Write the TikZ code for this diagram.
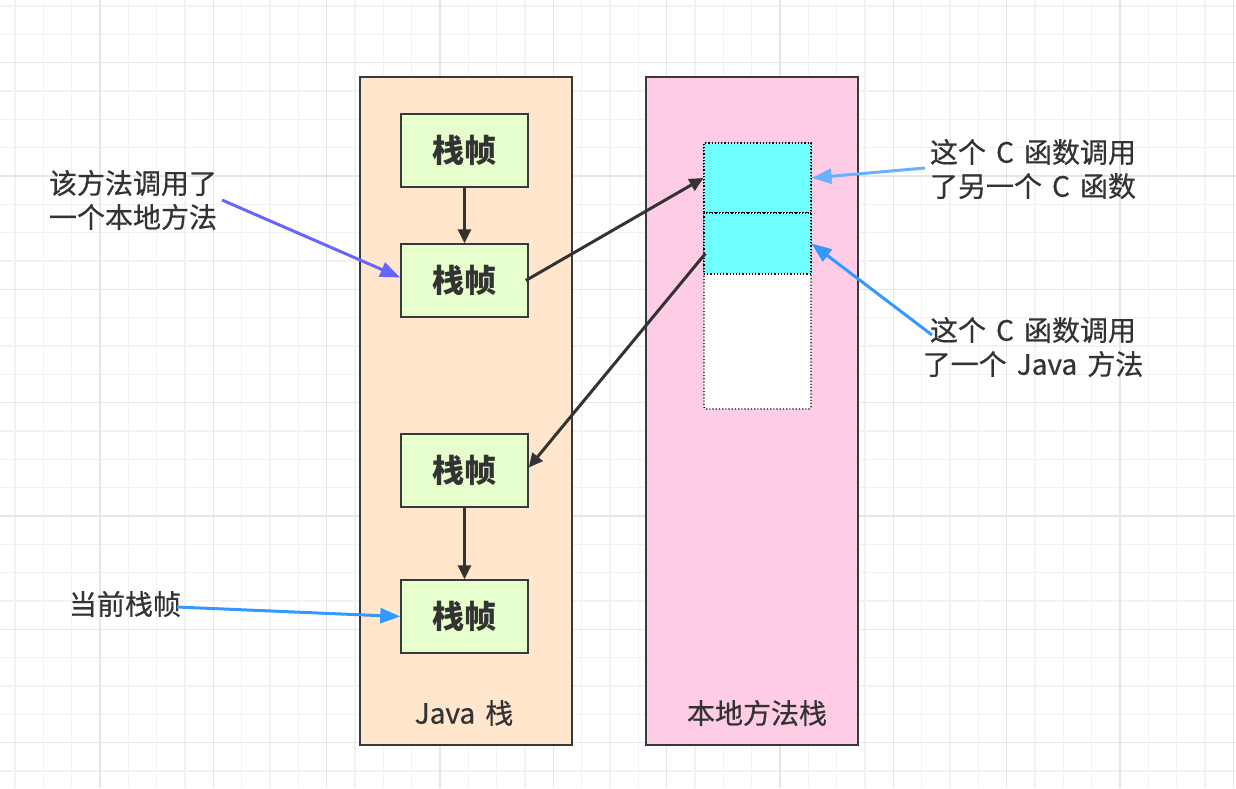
\documentclass[tikz,border=0pt]{standalone}
\usepackage{fontspec}
\setmainfont{Noto Sans CJK SC}
\newfontfamily\labelfont{Noto Sans CJK SC}[FakeBold=0.5]
\usetikzlibrary{arrows.meta}
\definecolor{txt}{HTML}{333333}
\definecolor{peach}{HTML}{FFE6CC}
\definecolor{pinkbg}{HTML}{FFCCE6}
\definecolor{greenbg}{HTML}{E6FFCC}
\definecolor{cyanbg}{HTML}{70FFFF}
\definecolor{edge}{HTML}{36393D}
\definecolor{purp}{HTML}{6666FF}
\definecolor{blue1}{HTML}{3399FF}
\definecolor{blue2}{HTML}{66B2FF}
\definecolor{gridminor}{HTML}{F2F2F2}
\definecolor{gridmajor}{HTML}{E6E6E6}
\newcommand\lblfontset{\labelfont\fontsize{28}{34}\selectfont\spaceskip=0.36em\relax}
\tikzset{
  stackbox/.style={draw=edge, line width=1.5pt, minimum width=212pt, minimum height=668pt, inner sep=0pt},
  framebox/.style={draw=edge, line width=1.5pt, fill=greenbg, minimum width=127pt, minimum height=73pt, inner sep=0pt, font=\fontsize{32}{34}\selectfont\bfseries, text=txt},
  cellbox/.style={draw=black, line width=1.2pt, dotted, minimum width=107pt, inner sep=0pt},
  lbl/.style={text=txt, font=\lblfontset, inner sep=0pt, align=center},
  darrow/.style={draw=txt, line width=3pt, -{Triangle[length=14pt,width=13pt]}},
  barrow/.style={line width=3pt, -{Triangle[length=20pt,width=15pt]}},
}
\begin{document}
\begin{tikzpicture}[x=1pt,y=-1pt]
\useasboundingbox (0,0) rectangle (1236,788);
\fill[white] (0,0) rectangle (1236,788);
% grid
\foreach \i in {0,...,43} {
  \draw[gridminor, line width=1.5pt] ({15+28.333*\i},0) -- ({15+28.333*\i},788);
}
\foreach \i in {0,...,28} {
  \draw[gridminor, line width=1.5pt] (0,{6+28.333*\i}) -- (1236,{6+28.333*\i});
}
\foreach \i in {0,...,10} {
  \draw[gridmajor, line width=1.5pt] ({100+113.333*\i},0) -- ({100+113.333*\i},788);
}
\foreach \i in {0,...,6} {
  \draw[gridmajor, line width=1.5pt] (0,{62.7+113.333*\i}) -- (1236,{62.7+113.333*\i});
}
% stacks
\node[stackbox, fill=peach] (js) at (466,411) {};
\node[stackbox, fill=pinkbg] (ns) at (752,411) {};
\node[lbl] (jl) at (464,713) {Java 栈};
\node[lbl] (nl) at (757,713) {本地方法栈};
% java frames
\node[framebox] (f1) at (464.5,150.5) {栈帧};
\node[framebox] (f2) at (464.5,280.5) {栈帧};
\node[framebox] (f3) at (464.5,470.5) {栈帧};
\node[framebox] (f4) at (464.5,616.5) {栈帧};
% native cells
\node[cellbox, fill=white, minimum height=266pt, rounded corners=2pt] (cw) at (757.5,276) {};
\node[cellbox, fill=cyanbg, minimum height=70pt] (ca) at (757.5,178) {};
\node[cellbox, fill=cyanbg, minimum height=61pt] (cb) at (757.5,243.5) {};
% labels
\node[lbl, align=left] (l1) at (133,200) {该方法调用了\\一个本地方法};
\node[lbl] (l2) at (125,604) {当前栈帧};
\node[lbl] (l3) at (1033,169) {这个 C 函数调用\\了另一个 C 函数};
\node[lbl] (l4) at (1033,347) {这个 C 函数调用\\了一个 Java 方法};
\coordinate (s1) at (222,200);
\coordinate (s2) at (177,607);
\coordinate (s3) at (925,168);
\coordinate (s4) at (932,335);
% dark arrows
\draw[darrow] (f1.south) -- (f2.north);
\draw[darrow] (f3.south) -- (f4.north);
\draw[darrow] ([xshift=-3pt]f2.east) -- (ca.west);
\draw[darrow] ([xshift=2pt,yshift=-10pt]cb.west) -- ([yshift=3pt]f3.east);
% coloured arrows
\draw[barrow, draw=purp, fill=purp] (s1) -- ([yshift=3pt]f2.west);
\draw[barrow, draw=blue1, fill=blue1] (s2) -- (f4.west);
\draw[barrow, draw=blue2, fill=blue2] (s3) -- (ca.east);
\draw[barrow, draw=blue1, fill=blue1] (s4) -- ([yshift=0pt]cb.east);
\end{tikzpicture}
\end{document}
